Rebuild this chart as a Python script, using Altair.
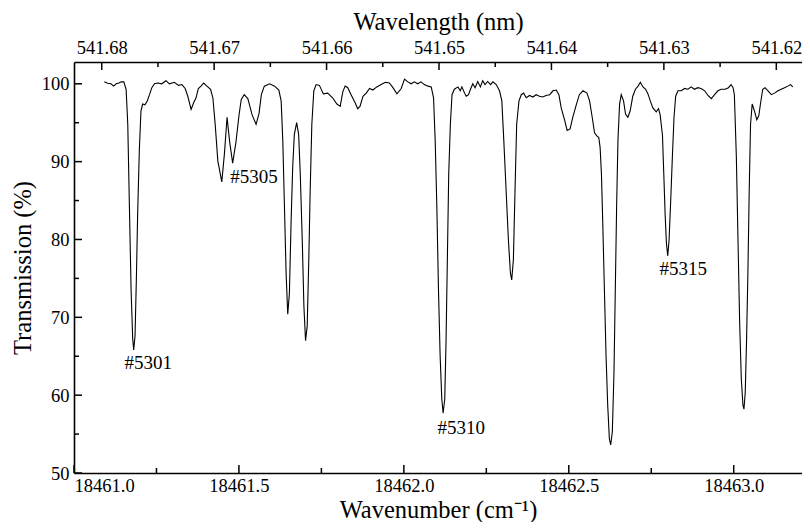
import altair as alt
import pandas as pd

# ---- spectrum ----
wavenumber = [
    18461.092, 18461.102, 18461.112, 18461.120, 18461.128, 18461.136, 18461.143, 18461.151,
    18461.158, 18461.163, 18461.168, 18461.173, 18461.178, 18461.181, 18461.185, 18461.189,
    18461.193, 18461.198, 18461.203, 18461.208, 18461.215, 18461.222, 18461.229, 18461.236,
    18461.244, 18461.254, 18461.266, 18461.279, 18461.289, 18461.304, 18461.317, 18461.327,
    18461.337, 18461.345, 18461.355, 18461.363, 18461.370, 18461.377, 18461.385, 18461.393,
    18461.403, 18461.414, 18461.421, 18461.428, 18461.436, 18461.448, 18461.456, 18461.464,
    18461.472, 18461.481, 18461.491, 18461.500, 18461.507, 18461.516, 18461.527, 18461.540,
    18461.552, 18461.561, 18461.568, 18461.577, 18461.593, 18461.608, 18461.621, 18461.628,
    18461.633, 18461.638, 18461.643, 18461.648, 18461.653, 18461.658, 18461.663, 18461.668,
    18461.675, 18461.681, 18461.686, 18461.692, 18461.697, 18461.702, 18461.707, 18461.712,
    18461.716, 18461.721, 18461.727, 18461.734, 18461.744, 18461.756, 18461.769, 18461.784,
    18461.797, 18461.807, 18461.815, 18461.822, 18461.830, 18461.840, 18461.853, 18461.860,
    18461.867, 18461.876, 18461.886, 18461.896, 18461.906, 18461.918, 18461.931, 18461.944,
    18461.956, 18461.967, 18461.979, 18461.992, 18462.002, 18462.012, 18462.022, 18462.032,
    18462.042, 18462.052, 18462.062, 18462.073, 18462.083, 18462.090, 18462.095, 18462.100,
    18462.105, 18462.110, 18462.115, 18462.119, 18462.124, 18462.128, 18462.132, 18462.136,
    18462.141, 18462.146, 18462.153, 18462.164, 18462.171, 18462.176, 18462.184, 18462.189,
    18462.196, 18462.202, 18462.209, 18462.216, 18462.224, 18462.232, 18462.239, 18462.246,
    18462.254, 18462.263, 18462.270, 18462.280, 18462.290, 18462.297, 18462.303, 18462.310,
    18462.317, 18462.323, 18462.327, 18462.332, 18462.337, 18462.342, 18462.349, 18462.356,
    18462.363, 18462.371, 18462.381, 18462.391, 18462.401, 18462.411, 18462.421, 18462.431,
    18462.442, 18462.452, 18462.462, 18462.470, 18462.477, 18462.487, 18462.495, 18462.504,
    18462.512, 18462.522, 18462.532, 18462.543, 18462.555, 18462.563, 18462.571, 18462.578,
    18462.585, 18462.591, 18462.595, 18462.599, 18462.603, 18462.608, 18462.613, 18462.618,
    18462.623, 18462.627, 18462.632, 18462.637, 18462.641, 18462.645, 18462.649, 18462.654,
    18462.659, 18462.666, 18462.672, 18462.679, 18462.686, 18462.694, 18462.702, 18462.710,
    18462.717, 18462.725, 18462.733, 18462.740, 18462.747, 18462.755, 18462.765, 18462.772,
    18462.777, 18462.784, 18462.788, 18462.792, 18462.796, 18462.800, 18462.804, 18462.809,
    18462.814, 18462.819, 18462.824, 18462.831, 18462.841, 18462.851, 18462.861, 18462.871,
    18462.881, 18462.891, 18462.901, 18462.912, 18462.922, 18462.932, 18462.942, 18462.952,
    18462.962, 18462.974, 18462.984, 18462.992, 18462.998, 18463.002, 18463.008, 18463.013,
    18463.018, 18463.023, 18463.028, 18463.031, 18463.035, 18463.039, 18463.043, 18463.047,
    18463.051, 18463.056, 18463.063, 18463.070, 18463.076, 18463.081, 18463.088, 18463.095,
    18463.104, 18463.114, 18463.124, 18463.134, 18463.144, 18463.154, 18463.164, 18463.172,
    18463.179,
]
transmission = [
    100.25, 100.08, 100.0, 99.7, 100.0, 100.1, 100.25, 100.25,
    99.3, 94.8, 84.2, 73.6, 67.2, 65.8, 67.6, 74.8,
    83.3, 91.4, 96.5, 97.4, 97.3, 97.8, 98.6, 99.5,
    100.0, 100.1, 100.0, 100.4, 100.0, 100.2, 99.8, 99.9,
    99.4, 98.4, 96.7, 97.6, 98.2, 99.4, 99.7, 100.1,
    99.7, 99.3, 98.2, 94.8, 90.1, 87.4, 91.0, 95.7,
    92.5, 89.8, 92.5, 95.9, 98.0, 98.6, 98.1, 96.0,
    94.8, 96.2, 98.6, 99.7, 100.0, 99.7, 99.2, 97.8,
    92.7, 84.2, 75.7, 70.4, 73.1, 82.1, 89.3, 93.5,
    95.0, 93.5, 88.4, 79.9, 71.4, 67.0, 68.9, 77.8,
    86.3, 94.8, 99.1, 99.9, 99.8, 98.7, 98.8, 98.2,
    97.4, 97.1, 99.0, 99.7, 99.5, 98.6, 97.5, 96.8,
    97.1, 98.4, 98.8, 99.4, 99.2, 99.6, 99.9, 100.2,
    100.1, 99.5, 98.7, 99.4, 100.6, 100.25, 100.0, 100.25,
    100.0, 100.25, 99.9, 99.7, 99.6, 98.2, 92.7, 84.2,
    73.5, 65.0, 59.5, 57.7, 59.5, 67.2, 77.8, 88.4,
    94.8, 98.6, 99.3, 99.6, 99.1, 99.6, 98.8, 98.4,
    98.6, 99.3, 100.0, 99.5, 100.3, 99.6, 100.4, 99.9,
    100.3, 99.9, 100.25, 99.9, 99.1, 97.8, 92.7, 86.3,
    79.9, 75.7, 74.8, 77.4, 86.3, 94.8, 97.8, 98.6,
    98.8, 98.2, 98.5, 98.3, 98.6, 98.4, 98.3, 98.5,
    98.6, 99.1, 99.2, 98.6, 96.9, 95.4, 94.0, 94.2,
    95.7, 97.2, 98.6, 99.1, 98.8, 97.8, 95.7, 93.7,
    93.3, 93.1, 91.8, 88.4, 82.1, 73.5, 65.0, 58.7,
    54.4, 53.6, 55.3, 62.9, 73.5, 84.2, 92.7, 97.4,
    98.6, 97.8, 96.1, 95.7, 96.5, 98.4, 99.3, 99.7,
    100.2, 99.6, 99.3, 98.7, 97.8, 96.9, 96.4, 96.8,
    96.0, 93.4, 88.4, 83.3, 79.5, 77.9, 79.9, 85.0,
    90.6, 95.7, 98.4, 99.1, 99.1, 99.4, 99.3, 99.6,
    99.3, 99.5, 99.4, 99.1, 98.5, 98.1, 98.6, 99.1,
    99.3, 99.3, 99.5, 99.9, 99.5, 98.6, 90.6, 79.9,
    69.3, 62.1, 58.7, 58.2, 60.4, 67.2, 75.7, 86.3,
    94.8, 97.4, 96.5, 95.4, 95.9, 97.4, 99.3, 99.5,
    99.1, 98.6, 98.8, 99.1, 99.3, 99.5, 99.7, 99.9,
    99.6,
]

# ---- line labels ----
label_text = ["#5301", "#5305", "#5310", "#5315"]
label_x = [18461.153, 18461.474, 18462.102, 18462.775]
label_y = [63.3, 87.3, 55.0, 75.4]

# ---- axes ----
x_domain = [18461.0, 18463.207]
y_domain = [50, 102.8]
bottom_major = [18461.0, 18461.5, 18462.0, 18462.5, 18463.0]
bottom_minor = [18461.25, 18461.75, 18462.25, 18462.75]
left_major = [50, 60, 70, 80, 90, 100]
left_minor = [55, 65, 75, 85, 95]
wavelength_major = [541.68, 541.67, 541.66, 541.65, 541.64, 541.63, 541.62]
wavelength_minor = [541.675, 541.665, 541.655, 541.645, 541.635, 541.625]

W, H = 728, 411
FONT = "Liberation Serif"
TICK_FS = 18.5
TITLE_FS = 24.5

top_major_pos = [1e7 / w for w in wavelength_major]
top_minor_pos = [1e7 / w for w in wavelength_minor if x_domain[0] <= 1e7 / w <= x_domain[1]]

spec_df = pd.DataFrame({"nu": wavenumber, "T": transmission})
lab_df = pd.DataFrame({"nu": label_x, "T": label_y, "text": label_text})

xs = alt.Scale(domain=x_domain, nice=False, zero=False)
ys = alt.Scale(domain=y_domain, nice=False, zero=False)

common = dict(
    ticks=False, grid=False, domainColor="black", domainWidth=1.6,
    labelFont=FONT, labelFontSize=TICK_FS, labelColor="black",
    titleFont=FONT, titleFontSize=TITLE_FS, titleFontWeight="normal", titleColor="black",
)

line = alt.Chart(spec_df).mark_line(color="black", strokeWidth=1.1).encode(
    x=alt.X("nu:Q", scale=xs, axis=alt.Axis(
        orient="bottom", values=bottom_major, format=".1f", labelPadding=3,
        title="Wavenumber (cm⁻¹)", titleBaseline="alphabetic", titleY=44, **common,
    )),
    y=alt.Y("T:Q", scale=ys, axis=alt.Axis(
        orient="left", values=left_major, labelPadding=5,
        title="Transmission (%)", titlePadding=6, **common,
    )),
)

labels = alt.Chart(lab_df).mark_text(
    align="left", baseline="alphabetic", font=FONT, fontSize=19, color="black"
).encode(
    x=alt.X("nu:Q", scale=xs, axis=alt.Axis(
        orient="top", values=top_major_pos, labelExpr="format(1e7/datum.value, '.2f')",
        labelPadding=5, title="Wavelength (nm)", titleBaseline="alphabetic", titleY=-33,
        **common,
    )),
    y=alt.Y("T:Q", scale=ys, axis=None),
    text="text:N",
)


def xticks(vals, y0, y1):
    return alt.Chart(pd.DataFrame({"v": vals})).mark_rule(color="black", strokeWidth=1.5).encode(
        x=alt.X("v:Q", scale=xs, axis=None), y=alt.value(y0), y2=alt.value(y1)
    )


def yticks(vals, x0, x1):
    return alt.Chart(pd.DataFrame({"v": vals})).mark_rule(color="black", strokeWidth=1.5).encode(
        y=alt.Y("v:Q", scale=ys, axis=None), x=alt.value(x0), x2=alt.value(x1)
    )


chart = alt.layer(
    line, labels,
    xticks(bottom_major, H, H - 8), xticks(bottom_minor, H, H - 5),
    xticks(top_major_pos, 0, 8), xticks(top_minor_pos, 0, 5),
    yticks(left_major, 0, 8), yticks(left_minor, 0, 5),
).resolve_axis(x="independent", y="independent").properties(
    width=W, height=H,
    autosize=alt.AutoSizeParams(type="none"),
    padding={"left": 66, "top": 54, "right": 0, "bottom": 49},
    background="white",
).configure_view(stroke=None)

chart.save("out.html", embed_options={"renderer": "svg", "actions": False})
